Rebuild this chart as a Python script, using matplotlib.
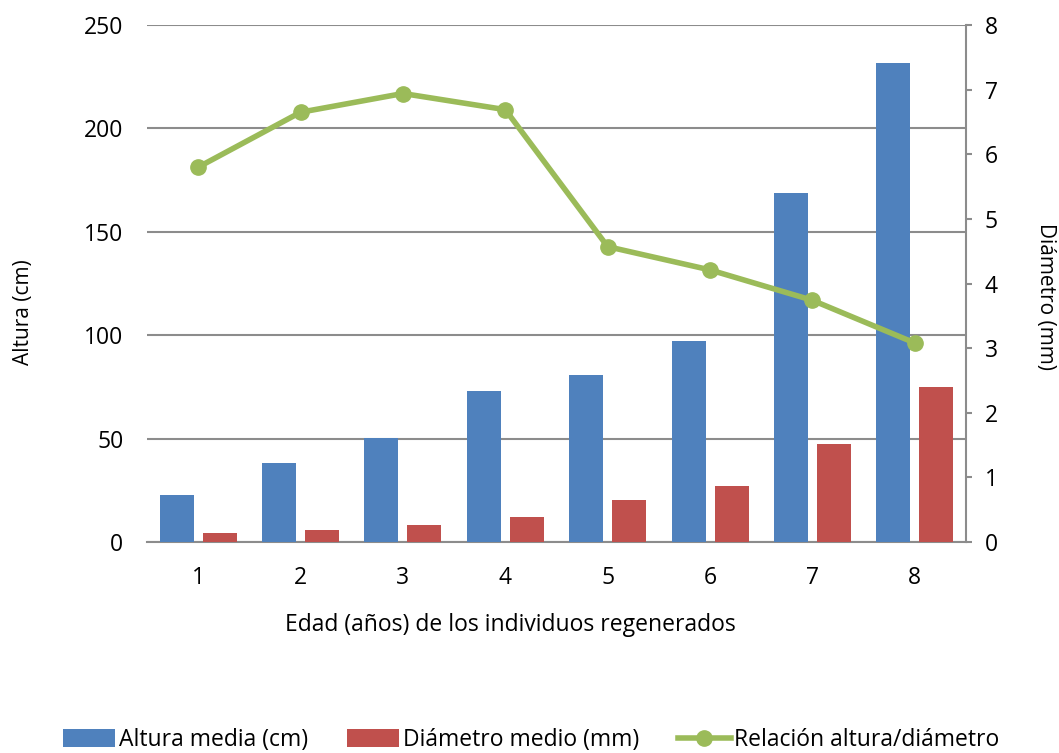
import matplotlib
matplotlib.use("Agg")
import matplotlib.pyplot as plt
import numpy as np
from matplotlib.lines import Line2D
from matplotlib.patches import Patch

# Data
edad = ["1", "2", "3", "4", "5", "6", "7", "8"]
altura_media = [22.9, 38.1, 50.3, 73.0, 80.6, 97.4, 169.0, 231.8]
diametro_medio = [4.2, 6.0, 8.1, 12.3, 20.5, 26.9, 47.2, 74.8]
relacion = [5.80, 6.65, 6.94, 6.69, 4.57, 4.21, 3.74, 3.08]

left_ticks = [0, 50, 100, 150, 200, 250]
right_ticks = [0, 1, 2, 3, 4, 5, 6, 7, 8]

BLUE = "#4F81BD"
RED = "#C0504D"
GREEN = "#9BBB59"
GRID = "#8C8C8C"

plt.rcParams["font.family"] = ["Open Sans", "DejaVu Sans"]
FS = 16.5

fig = plt.figure(figsize=(10.59, 7.53), dpi=100)
ax = fig.add_axes([147 / 1059, 1 - 542 / 753, (966 - 147) / 1059, (542 - 25) / 753])
ax2 = ax.twinx()

x = np.arange(len(edad))
w = 0.332
off = 0.21
ax.bar(x - off, altura_media, width=w, color=BLUE, zorder=3)
ax.bar(x + off, diametro_medio, width=w, color=RED, zorder=3)
ax.set_xlim(-0.5, len(edad) - 0.5)
ax.set_ylim(0, 250)
ax.set_yticks(left_ticks)
ax.set_xticks(x)
ax.set_xticklabels(edad)
ax.yaxis.grid(True, color=GRID, linewidth=1.5, zorder=0)
ax.set_axisbelow(True)
for s in ["top", "left", "right"]:
    ax.spines[s].set_visible(False)
ax.spines["bottom"].set_color(GRID)
ax.spines["bottom"].set_linewidth(1.5)
ax.tick_params(axis="y", length=0, pad=17, labelsize=FS)
ax.tick_params(axis="x", length=0, pad=17, labelsize=FS)
ax.set_ylabel("Altura (cm)", fontsize=FS - 1.5, va="center")
ax.yaxis.set_label_coords(-0.151, 0.445)
ax.set_xlabel("Edad (años) de los individuos regenerados", fontsize=FS, va="center")
ax.xaxis.set_label_coords(0.444, -0.161)

ax2.plot(x, relacion, color=GREEN, linewidth=4, marker="o", markersize=11, zorder=5)
ax2.set_ylim(0, 8)
ax2.set_yticks(right_ticks)
for s in ["top", "left", "bottom"]:
    ax2.spines[s].set_visible(False)
ax2.spines["right"].set_color(GRID)
ax2.spines["right"].set_linewidth(1.5)
ax2.tick_params(axis="y", direction="out", length=4.5, width=1.5, color=GRID, pad=9, labelsize=FS)
ax2.set_ylabel("Diámetro (mm)", fontsize=FS - 1.5, rotation=270, va="center")
ax2.yaxis.set_label_coords(1.0965, 0.474)

handles = [
    Patch(facecolor=BLUE, label="Altura media (cm)"),
    Patch(facecolor=RED, label="Diámetro medio (mm)"),
    Line2D([0], [0], color=GREEN, linewidth=4, marker="o", markersize=11,
           label="Relación altura/diámetro"),
]
fig.legend(handles=handles, loc="center", bbox_to_anchor=(531 / 1059, 1 - 740 / 753),
           ncol=3, frameon=False, fontsize=FS, handlelength=2.3, handleheight=0.8,
           handletextpad=0.15, columnspacing=1.7)

fig.savefig("out.png", dpi=100)
